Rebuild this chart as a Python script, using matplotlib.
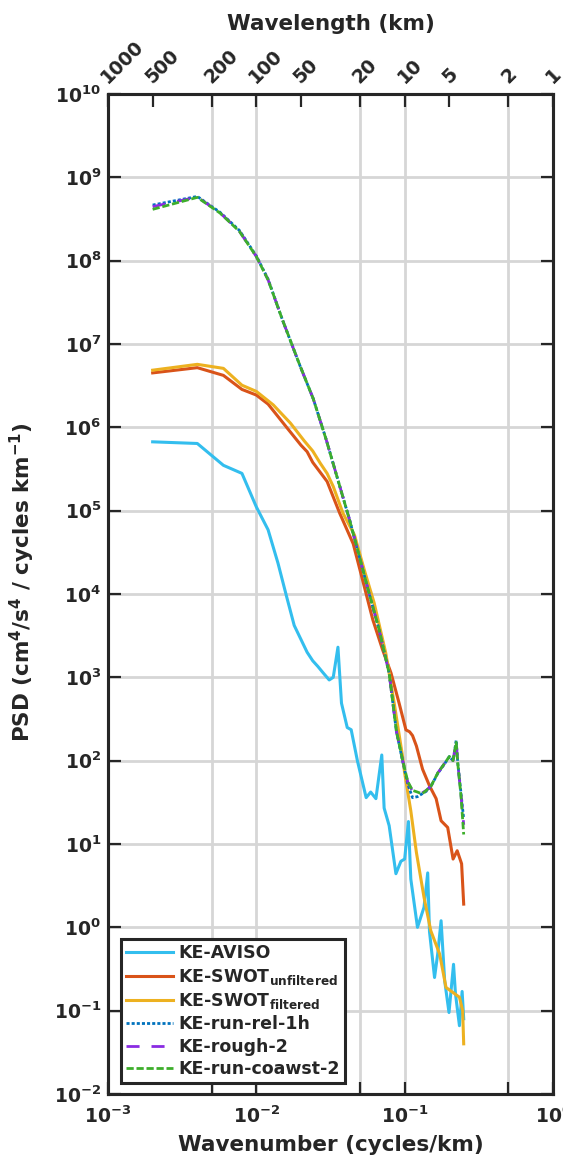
import numpy as np
import matplotlib
matplotlib.use("Agg")
import matplotlib.pyplot as plt
import matplotlib.transforms as mtransforms
from matplotlib.ticker import NullLocator

plt.rcParams['font.family'] = ['DejaVu Sans']
plt.rcParams['font.weight'] = 'bold'
plt.rcParams['axes.labelweight'] = 'bold'
plt.rcParams['mathtext.default'] = 'bf'
plt.rcParams['text.color'] = '#262626'

# wavenumber (cycles/km) and PSD values
k_aviso = [0.002, 0.004, 0.006, 0.008, 0.010, 0.012, 0.014, 0.016, 0.018, 0.022,
           0.024, 0.026, 0.028, 0.031, 0.033, 0.0355, 0.0375, 0.041, 0.0436, 0.048,
           0.055, 0.059, 0.064, 0.0701, 0.0727, 0.0786, 0.0873, 0.0943, 0.100, 0.106,
           0.110, 0.122, 0.135, 0.143, 0.147, 0.159, 0.167, 0.176, 0.186, 0.199,
           0.2135, 0.220, 0.234, 0.244, 0.250]
psd_aviso = [6.7e5, 6.4e5, 3.5e5, 2.8e5, 1.11e5, 5.9e4, 2.34e4, 9.3e3, 4.2e3, 2.0e3,
             1.58e3, 1.35e3, 1.15e3, 930, 1.0e3, 2.3e3, 490, 250, 235, 100,
             36, 42, 35, 117, 27, 16.6, 4.4, 6.2, 6.6, 18.6,
             3.8, 1.0, 1.74, 4.5, 0.89, 0.25, 0.48, 1.2, 0.23, 0.095,
             0.36, 0.16, 0.066, 0.17, 0.08]

k_swot_unf = [0.002, 0.004, 0.006, 0.008, 0.010, 0.012, 0.016, 0.020, 0.022, 0.024,
              0.030, 0.0365, 0.045, 0.052, 0.061, 0.071, 0.081, 0.092, 0.102, 0.108,
              0.113, 0.120, 0.132, 0.147, 0.163, 0.176, 0.195, 0.212, 0.226, 0.242,
              0.250]
psd_swot_unf = [4.5e6, 5.2e6, 4.2e6, 2.85e6, 2.44e6, 1.9e6, 1.0e6, 6.1e5, 5.1e5, 3.8e5,
                2.24e5, 9.3e4, 4.0e4, 1.48e4, 4.9e3, 2.14e3, 1.12e3, 480, 234, 222,
                200, 150, 79, 50, 35, 19, 15.8, 6.6, 8.3, 5.8,
                1.9]

k_swot_fil = [0.002, 0.004, 0.006, 0.008, 0.010, 0.013, 0.017, 0.021, 0.024, 0.027,
              0.030, 0.033, 0.0384, 0.0459, 0.0534, 0.0623, 0.0746, 0.085, 0.0968, 0.100,
              0.110, 0.120, 0.135, 0.150, 0.172, 0.190, 0.217, 0.234, 0.246, 0.250]
psd_swot_fil = [4.85e6, 5.7e6, 5.1e6, 3.2e6, 2.7e6, 1.86e6, 1.12e6, 6.9e5, 5.2e5, 3.7e5,
                2.8e5, 1.95e5, 9.3e4, 5.1e4, 1.95e4, 7.8e3, 1.95e3, 490, 112, 71,
                25, 7.9, 2.3, 0.91, 0.48, 0.19, 0.16, 0.145, 0.10, 0.04]

k_model = [0.002, 0.004, 0.0057, 0.0077, 0.010, 0.012, 0.015, 0.0196, 0.0242, 0.0296,
           0.036, 0.0425, 0.0495, 0.0577, 0.0673, 0.0786, 0.088, 0.097, 0.105, 0.113,
           0.122, 0.131, 0.140, 0.151, 0.167, 0.186, 0.200, 0.212, 0.2225, 0.228,
           0.240, 0.250]
psd_rel_1h = [4.65e8, 5.9e8, 3.8e8, 2.3e8, 1.14e8, 6.0e7, 1.95e7, 5.6e6, 2.2e6, 7.1e5,
              2.14e5, 7.8e4, 2.8e4, 1.0e4, 3.7e3, 1.12e3, 224, 98, 52, 36,
              37, 40, 43, 50, 70, 92, 112, 100, 175, 95,
              40, 20]
psd_rough_2 = [4.45e8, 5.8e8, 3.75e8, 2.25e8, 1.12e8, 5.9e7, 1.95e7, 5.6e6, 2.2e6, 7.1e5,
               2.14e5, 7.8e4, 2.8e4, 1.0e4, 3.7e3, 1.12e3, 224, 100, 55, 43,
               44, 41, 44, 50, 71, 93, 112, 100, 170, 93,
               38, 17]
psd_coawst_2 = [4.13e8, 5.75e8, 3.72e8, 2.24e8, 1.12e8, 5.89e7, 1.95e7, 5.62e6, 2.2e6, 7.08e5,
                2.14e5, 7.76e4, 2.82e4, 1.0e4, 3.72e3, 1.12e3, 224, 100, 56, 44,
                42, 40, 44, 50, 71, 93, 112, 100, 166, 93,
                37, 13]

bottom_ticks = [1e-3, 5e-3, 1e-2, 5e-2, 1e-1, 5e-1, 1]
bottom_labels = ['$10^{-3}$', '', '$10^{-2}$', '', '$10^{-1}$', '', '$10^{0}$']
wavelength_ticks = [1000, 500, 200, 100, 50, 20, 10, 5, 2, 1]
psd_exps = list(range(-2, 11))

dark = '#262626'

fig = plt.figure(figsize=(5.63, 11.58), dpi=100)
ax = fig.add_axes([108/563, 64/1158, 445/563, 1000/1158])

ax.plot(k_aviso, psd_aviso, color='#33BEEE', lw=2.2, label='KE-AVISO')
ax.plot(k_swot_unf, psd_swot_unf, color='#D95319', lw=2.2, label='KE-SWOT$_{unfiltered}$')
ax.plot(k_swot_fil, psd_swot_fil, color='#EDB120', lw=2.2, label='KE-SWOT$_{filtered}$')
ax.plot(k_model, psd_rel_1h, color='#0072BD', lw=2, dashes=(1.1, 0.75), label='KE-run-rel-1h')
ax.plot(k_model, psd_rough_2, color='#8A2BE2', lw=2, dashes=(4.7, 4.3), label='KE-rough-2')
ax.plot(k_model, psd_coawst_2, color='#3DAE2B', lw=2, dashes=(2.6, 1.0), label='KE-run-coawst-2')

ax.set_xscale('log')
ax.set_yscale('log')
ax.set_xlim(1e-3, 1)
ax.set_ylim(1e-2, 1e10)
ax.set_xticks(bottom_ticks, bottom_labels)
ax.set_yticks([10.0**e for e in psd_exps], ['$10^{%d}$' % e for e in psd_exps])
ax.xaxis.set_minor_locator(NullLocator())
ax.yaxis.set_minor_locator(NullLocator())
ax.tick_params(which='major', direction='in', length=9, width=1.6, colors=dark,
               labelsize=13.5, right=True, pad=5)
ax.tick_params(axis='x', pad=8)
ax.grid(True, color='#d6d6d6', lw=2)
ax.set_axisbelow(True)
for s in ax.spines.values():
    s.set_linewidth(2.2)
    s.set_color(dark)

ax.set_xlabel('Wavenumber (cycles/km)', fontsize=15.5, labelpad=6, color=dark)
ax.set_ylabel('PSD (cm$^4$/s$^4$ / cycles km$^{-1}$)', fontsize=15.5, color=dark)
ax.yaxis.set_label_coords(-0.16, 0.512)

ax2 = ax.twiny()
ax2.set_xscale('log')
ax2.set_xlim(1e-3, 1)
ax2.set_xticks([1.0/w for w in wavelength_ticks], [str(w) for w in wavelength_ticks],
               rotation=45, ha='left', va='center', rotation_mode='anchor')
ax2.xaxis.set_minor_locator(NullLocator())
ax2.tick_params(direction='in', length=9, width=1.6, colors=dark, labelsize=13.5, pad=10)
shift = mtransforms.ScaledTranslation(-4/100, 0, fig.dpi_scale_trans)
for lab in ax2.get_xticklabels():
    lab.set_transform(lab.get_transform() + shift)
ax2.set_xlabel('Wavelength (km)', fontsize=15.5, labelpad=5, color=dark)
for s in ax2.spines.values():
    s.set_linewidth(2.2)
    s.set_color(dark)

leg = ax.legend(loc='lower left', bbox_to_anchor=(0.0285, 0.0107), borderaxespad=0,
                fontsize=12.5, handlelength=2.7, handletextpad=0.3, labelspacing=0.25,
                borderpad=0.3, fancybox=False, framealpha=1, edgecolor=dark)
leg.get_frame().set_linewidth(2.2)
for t in leg.get_texts():
    t.set_color(dark)

fig.savefig('out.png', dpi=100)
